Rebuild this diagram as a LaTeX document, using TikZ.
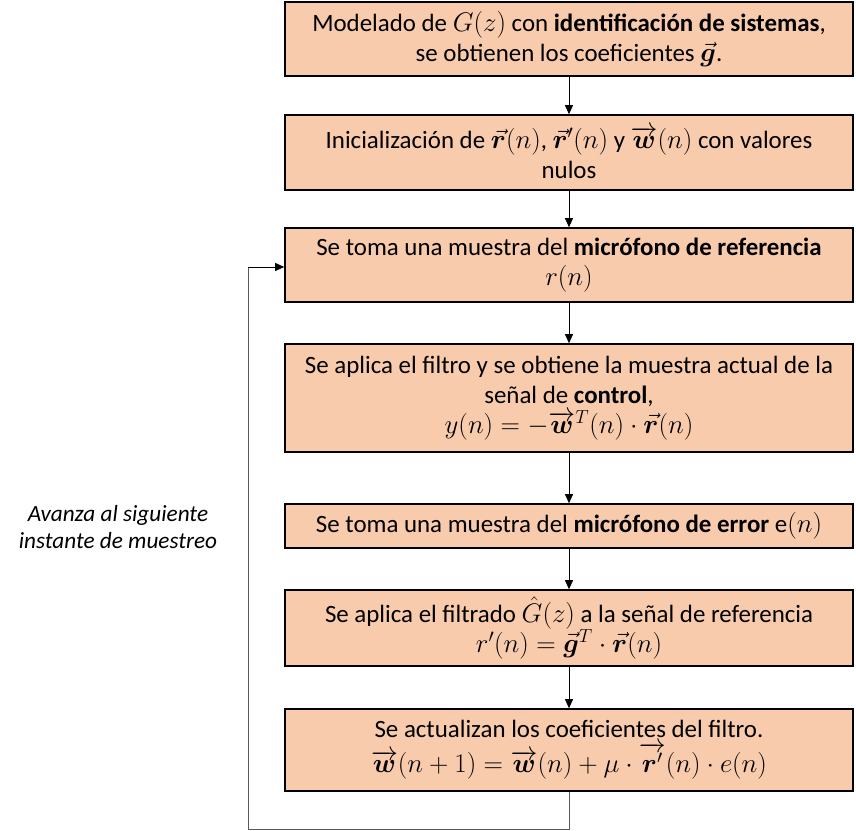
\RequirePackage{fix-cm}
\documentclass[tikz,border=0pt]{standalone}
\usepackage{amsmath,bm}
\usepackage{fontspec}
\setmainfont{Carlito}
\usetikzlibrary{arrows.meta}
\newcommand\mth[1]{{\fontsize{27}{30}\selectfont$#1$}}
\definecolor{boxfill}{HTML}{F8CBAD}
\definecolor{loopgray}{HTML}{595959}
\tikzset{
  stepbox/.style={draw=black, line width=1.6bp, fill=boxfill, minimum width=568bp, align=center, inner sep=0pt, font=\fontsize{25}{30}\selectfont},
  flow/.style={draw=black, line width=0.8bp, -{Triangle[width=8bp,length=9bp]}},
  loopline/.style={draw=loopgray, line width=1bp},
  note/.style={align=center, font=\fontsize{23.3}{27}\selectfont\itshape}
}
\begin{document}
\begin{tikzpicture}[x=1bp,y=-1bp]
\useasboundingbox (0,0) rectangle (856,831);
\node[stepbox, minimum height=74bp] (b1) at (569,39) {Modelado de \mth{G(z)} con \textbf{identificación de sistemas},\\ se obtienen los coeficientes \mth{\vec{\bm g}}.};
\node[stepbox, minimum height=75bp] (b2) at (569,152.5) {Inicialización de \mth{\vec{\bm r}(n)}, \mth{\vec{\bm r}'(n)} y \mth{\overrightarrow{\bm w}(n)} con valores\\ nulos};
\node[stepbox, minimum height=74bp] (b3) at (569,265) {Se toma una muestra del \textbf{micrófono de referencia}\\ \mth{r(n)}};
\node[stepbox, minimum height=108bp] (b4) at (569,398) {Se aplica el filtro y se obtiene la muestra actual de la\\ señal de \textbf{control},\\ \mth{y(n)=-\overrightarrow{\bm w}^T(n)\cdot\vec{\bm r}(n)}};
\node[stepbox, minimum height=44bp] (b5) at (569,526) {Se toma una muestra del \textbf{micrófono de error} e\mth{(n)}};
\node[stepbox, minimum height=76bp] (b6) at (569,628) {Se aplica el filtrado \mth{\hat{G}(z)} a la señal de referencia\\ \mth{r'(n)=\vec{\bm g}^T\cdot\vec{\bm r}(n)}};
\node[stepbox, minimum height=82bp] (b7) at (569,750) {Se actualizan los coeficientes del filtro.\\[4bp] \mth{\overrightarrow{\bm w}(n+1)=\overrightarrow{\bm w}(n)+\mu\cdot\overrightarrow{\bm r'}(n)\cdot e(n)}};
\node[note] (lbl) at (118,527) {Avanza al siguiente\\ instante de muestreo};
\draw[flow] (b1) -- (b2);
\draw[flow] (b2) -- (b3);
\draw[flow] (b3) -- (b4);
\draw[flow] (b4) -- (b5);
\draw[flow] (b5) -- (b6);
\draw[flow] (b6) -- (b7);
\coordinate (c1) at (569,829);
\coordinate (c2) at (248,829);
\coordinate (c3) at (248,267);
\draw[loopline] (b7.south) -- (c1) -- (c2) -- (c3);
\draw[flow] (c3) -- (b3.west |- c3);
\end{tikzpicture}
\end{document}
